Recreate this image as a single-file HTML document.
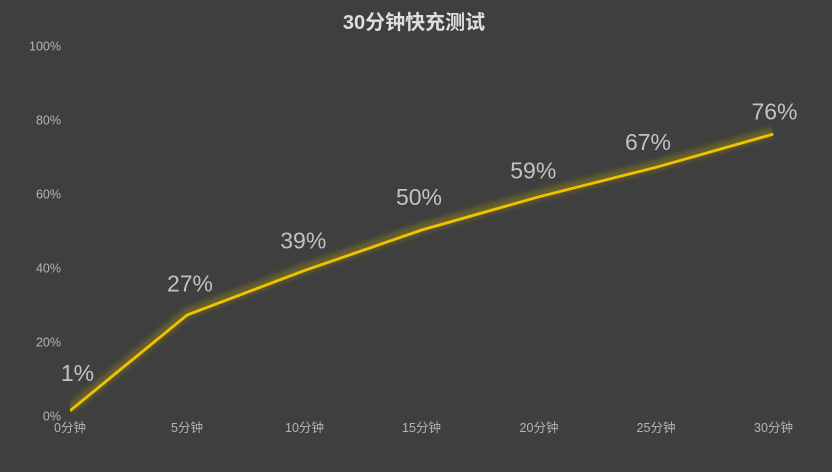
<!DOCTYPE html>
<html><head><meta charset="utf-8"><style>
html,body{margin:0;padding:0;background:#3f3f3f;}
svg{display:block;}
</style></head><body>
<svg width="832" height="472" viewBox="0 0 832 472" xmlns="http://www.w3.org/2000/svg">
<defs>
<filter id="g" x="-10%" y="-20%" width="120%" height="140%"><feGaussianBlur stdDeviation="3"/></filter>
<clipPath id="c"><rect x="70" y="0" width="703.5" height="472"/></clipPath>
</defs>
<rect width="832" height="472" fill="#3f3f3f"/>
<text x="414" y="29" text-anchor="middle" font-family="Liberation Sans, Noto Sans CJK SC, sans-serif" font-size="20" font-weight="bold" fill="#dedede">30分钟快充测试</text>
<g font-family="Liberation Sans, Noto Sans CJK SC, sans-serif" font-size="12.5" fill="#b4b4b4" text-anchor="end">
<text x="61" y="50.7">100%</text>
<text x="61" y="124.7">80%</text>
<text x="61" y="198.7">60%</text>
<text x="61" y="272.7">40%</text>
<text x="61" y="346.7">20%</text>
<text x="61" y="420.7">0%</text>
</g>
<g font-family="Liberation Sans, Noto Sans CJK SC, sans-serif" font-size="12.5" fill="#b4b4b4" text-anchor="middle">
<text x="70" y="432">0分钟</text>
<text x="187" y="432">5分钟</text>
<text x="304.5" y="432">10分钟</text>
<text x="421.5" y="432">15分钟</text>
<text x="539" y="432">20分钟</text>
<text x="656" y="432">25分钟</text>
<text x="773.5" y="432">30分钟</text>
</g>
<g clip-path="url(#c)">
<polyline points="70,408.8 187.2,312.9 304.4,268.6 421.6,228 538.8,194.8 656,165.3 773.2,132.1" fill="none" stroke="#7a7220" stroke-width="9" stroke-linejoin="round" opacity="0.75" filter="url(#g)"/>
<polyline points="70,410.8 187.2,314.9 304.4,270.6 421.6,230 538.8,196.8 656,167.3 773.2,134.1" fill="none" stroke="#f2c200" stroke-width="2.8" stroke-linejoin="round"/>
</g>
<g font-family="Liberation Sans, sans-serif" font-size="23" fill="#c2c2c2" text-anchor="middle">
<text x="77.5" y="381">1%</text>
<text x="190" y="291.7">27%</text>
<text x="303.3" y="248.3">39%</text>
<text x="419" y="205">50%</text>
<text x="533.3" y="178.3">59%</text>
<text x="648" y="150">67%</text>
<text x="774.5" y="119.3">76%</text>
</g>
</svg>
</body></html>
